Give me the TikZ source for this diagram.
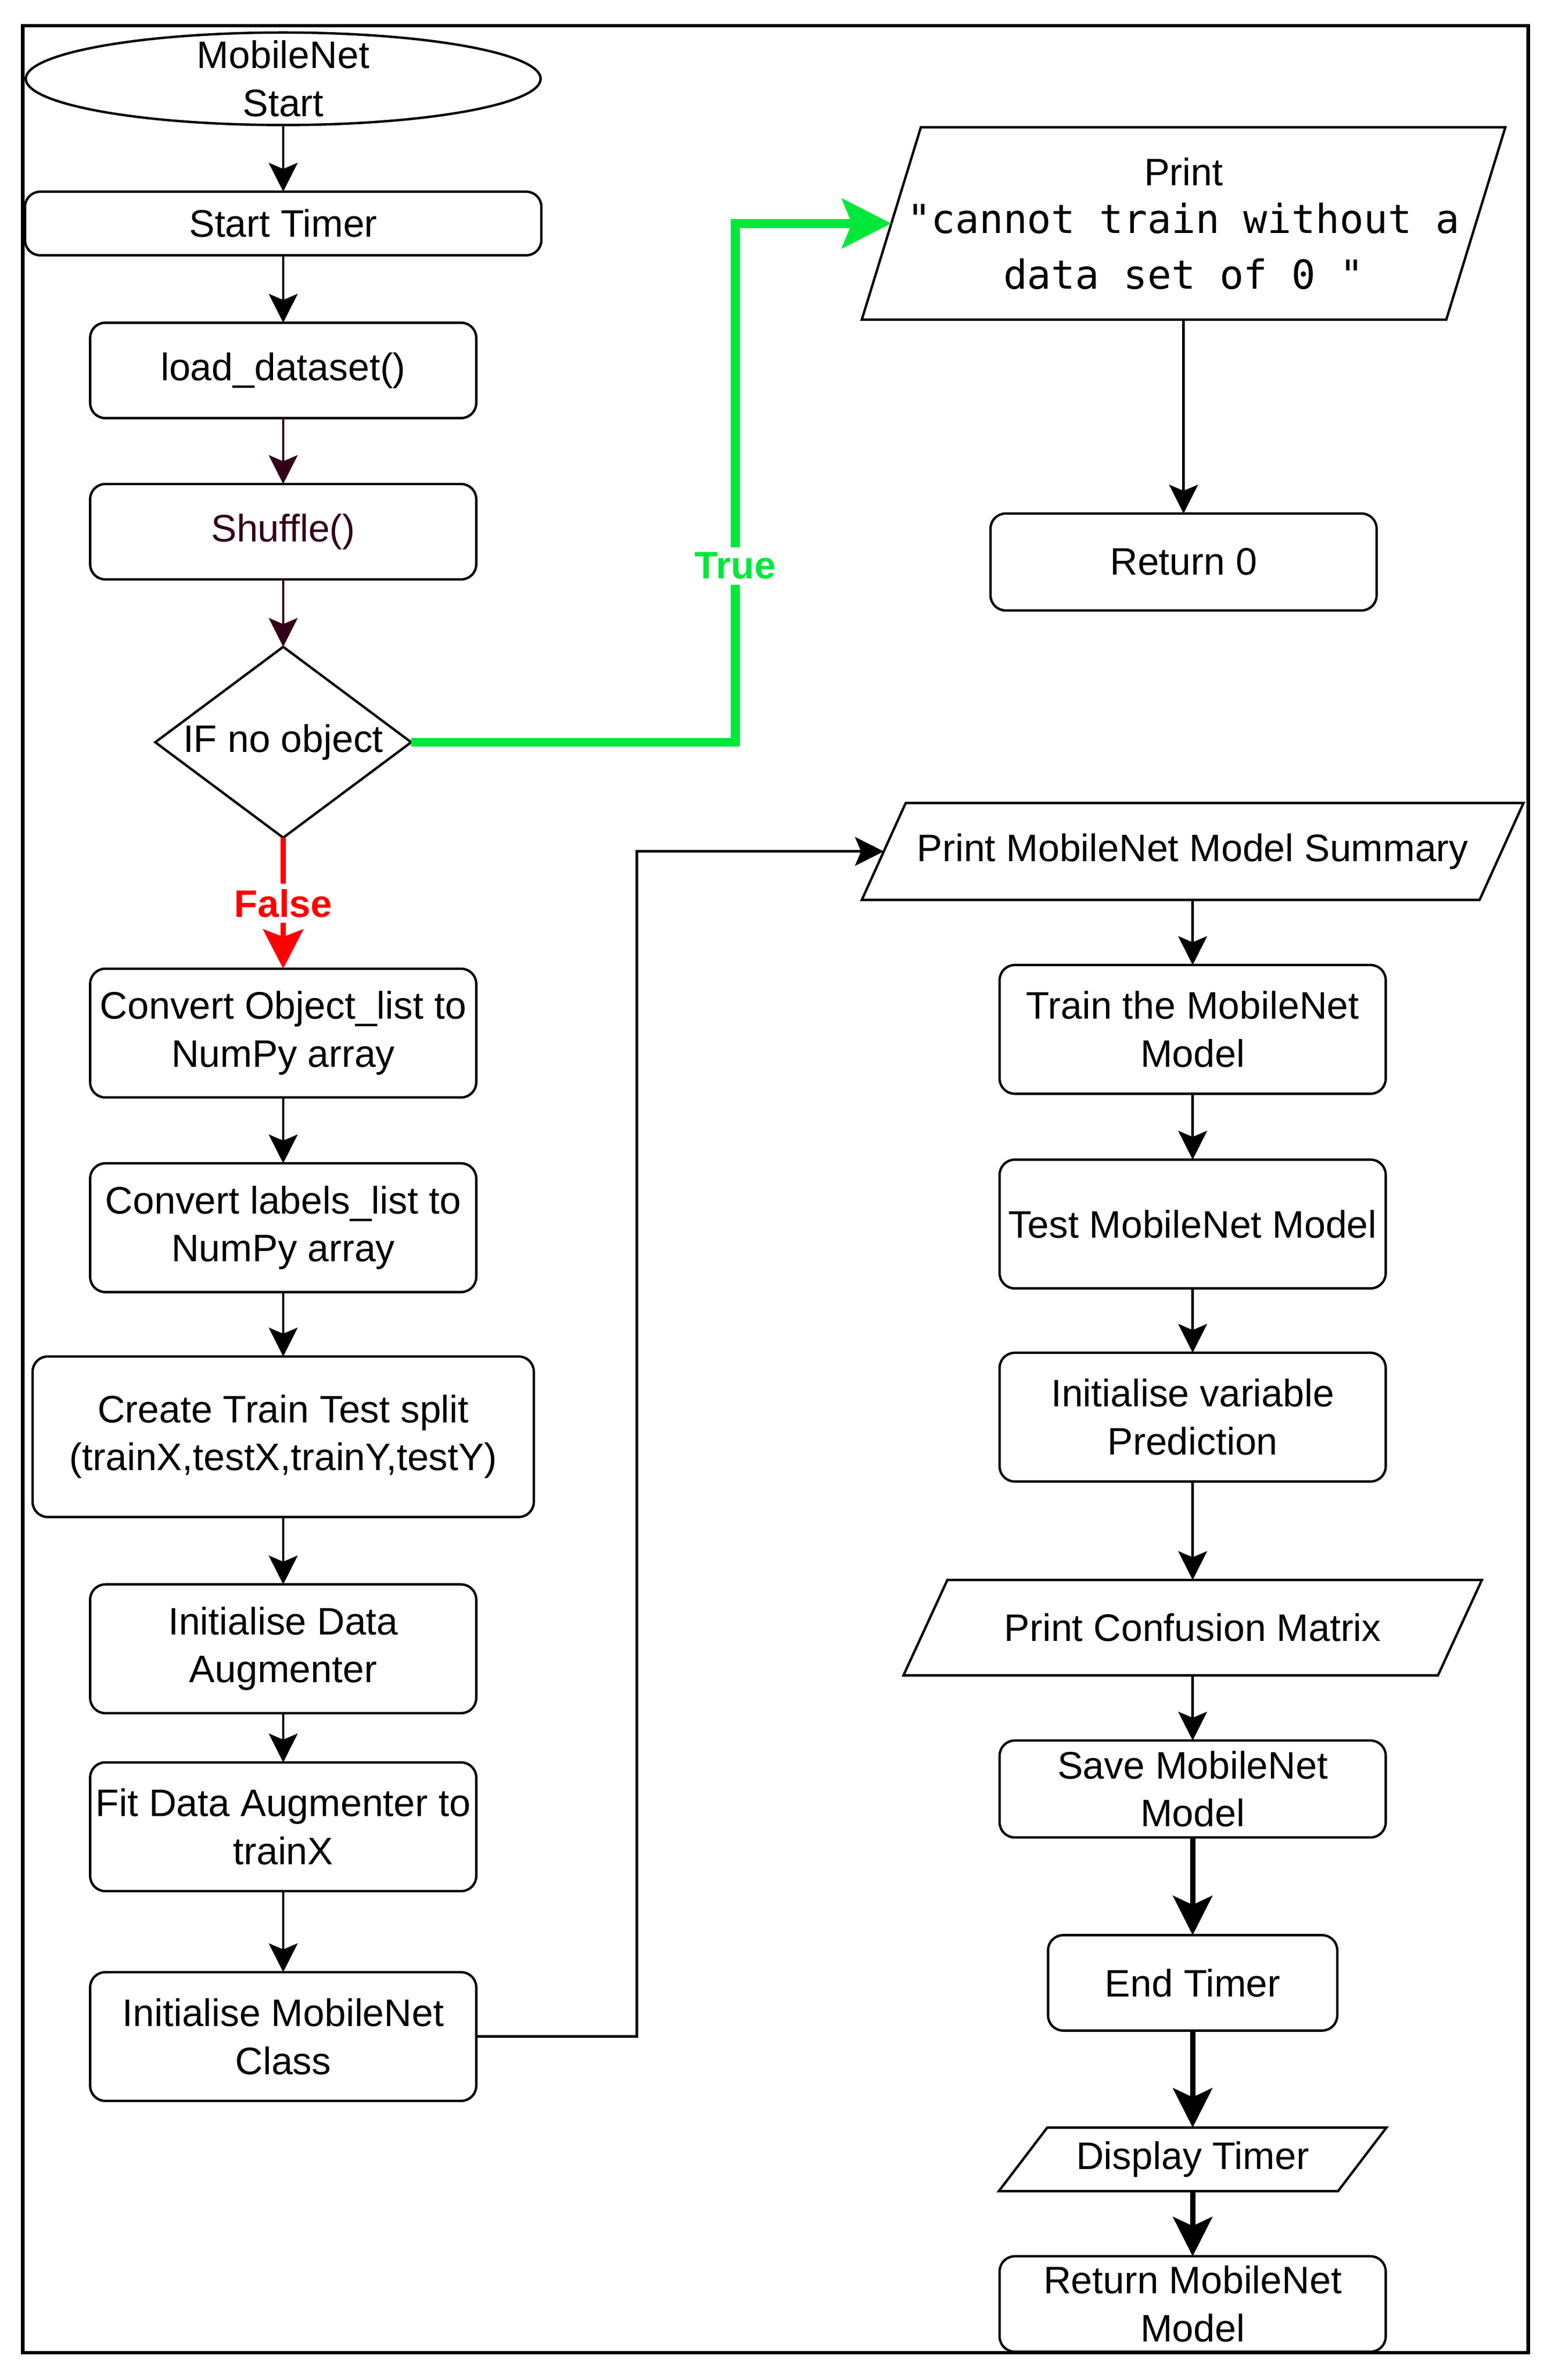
\documentclass[tikz,border=0pt]{standalone}
\usepackage{fontspec}
\setmainfont{Liberation Sans}
\setmonofont{DejaVu Sans Mono}
\usetikzlibrary{positioning, shapes.geometric, arrows.meta}

\definecolor{truegreen}{RGB}{0,232,58}
\definecolor{falsered}{RGB}{255,0,0}
\definecolor{darkmaroon}{RGB}{51,0,26}

\tikzset{
	box/.style={draw, line width=0.9pt, inner sep=0pt, outer sep=0pt, align=center, font=\fontsize{14.4}{18}\selectfont},
	proc/.style={box, rectangle, rounded corners=0.2cm, minimum width=5.1cm, minimum height=1.7cm},
	term/.style={box, ellipse, inner sep=-2pt, minimum width=6.8cm, minimum height=1.22cm},
	cond/.style={box, diamond, aspect=1.34, minimum width=3.38cm, minimum height=2.52cm},
	io/.style={box, rectangle, draw=none, append after command={\pgfextra{\draw[line width=0.9pt]
		([xshift=#1]\tikzlastnode.north west) -- (\tikzlastnode.north east)
		-- ([xshift=-#1]\tikzlastnode.south east) -- (\tikzlastnode.south west) -- cycle;}}},
	arr/.style={-{Stealth[length=0.38cm, width=0.38cm, inset=0.08cm]}, line width=1pt},
	heavyarr/.style={-{Stealth[length=0.52cm, width=0.52cm, inset=0.12cm]}, line width=2pt},
	truearr/.style={-{Stealth[length=0.65cm, width=0.65cm, inset=0.13cm]}, line width=3.4pt, truegreen},
	falsearr/.style={-{Stealth[length=0.52cm, width=0.53cm, inset=0.1cm]}, line width=2pt, falsered},
	branch/.style={fill=white, inner sep=2pt, font=\fontsize{14.4}{18}\selectfont\bfseries}
}

\begin{document}
\begin{tikzpicture}[x=0.02cm, y=-0.02cm]
	\useasboundingbox (0,0) rectangle (1024,1571);
	\draw[line width=1.3pt] (15,17) rectangle (1009,1553);

	\node[term] (start) at (187,52) {MobileNet\\Start};
	\node[proc, minimum width=6.82cm, minimum height=0.84cm, below=0.88cm of start] (timer) {Start Timer};
	\node[proc, minimum height=1.26cm, below=0.89cm of timer] (load) {load\_dataset()};
	\node[proc, minimum height=1.26cm, text=darkmaroon, below=0.87cm of load] (shuffle) {Shuffle()};
	\node[cond, below=0.89cm of shuffle] (ifobj) {IF no object};
	\node[proc, below=1.73cm of ifobj] (objlist) {Convert Object\_list to\\NumPy array};
	\node[proc, below=0.87cm of objlist] (lbllist) {Convert labels\_list to\\NumPy array};
	\node[proc, minimum width=6.62cm, minimum height=2.12cm, below=0.85cm of lbllist] (split) {Create Train Test split\\(trainX,testX,trainY,testY)};
	\node[proc, below=0.89cm of split] (initaug) {Initialise Data\\Augmenter};
	\node[proc, below=0.65cm of initaug] (fitaug) {Fit Data Augmenter to\\trainX};
	\node[proc, below=1.07cm of fitaug] (initmob) {Initialise MobileNet\\Class};

	\node[io=0.78cm, minimum width=8.5cm, minimum height=2.54cm] (nodata) at (781.5,147.5) {Print\\{\fontsize{15}{18}\selectfont\ttfamily "cannot train without a}\\[0.1cm]{\fontsize{15}{18}\selectfont\ttfamily data set of 0 "}};
	\node[proc, minimum height=1.28cm, below=3.83cm of nodata.center] (ret0) {Return 0};

	\node[io=0.58cm, minimum width=8.74cm, minimum height=1.28cm] (summary) at (787.5,562) {Print MobileNet Model Summary};
	\node[proc, below=1.5cm of summary.center] (train) {Train the MobileNet\\Model};
	\node[proc, below=0.87cm of train] (test) {Test MobileNet Model};
	\node[proc, below=0.85cm of test] (initvar) {Initialise variable\\Prediction};
	\node[io=0.58cm, minimum width=7.64cm, minimum height=1.26cm] (confusion) at ([yshift=-1.93cm]initvar.south) {Print Confusion Matrix};
	\node[proc, minimum height=1.28cm, below=1.49cm of confusion.center] (save) {Save MobileNet\\Model};
	\node[proc, minimum width=3.82cm, minimum height=1.26cm, below=1.29cm of save] (endtimer) {End Timer};
	\node[io=0.64cm, minimum width=5.12cm, minimum height=0.84cm] (display) at ([yshift=-1.7cm]endtimer.south) {Display Timer};
	\node[proc, minimum height=1.26cm, below=1.28cm of display.center] (retmob) {Return MobileNet\\Model};

	\foreach \a/\b in {start/timer, timer/load, objlist/lbllist, lbllist/split, split/initaug, initaug/fitaug, fitaug/initmob, nodata/ret0, summary/train, train/test, test/initvar, initvar/confusion, confusion/save}
		\draw[arr] (\a) -- (\b);
	\foreach \a/\b in {load/shuffle, shuffle/ifobj}
		\draw[arr, darkmaroon] (\a) -- (\b);
	\foreach \a/\b in {save/endtimer, endtimer/display, display/retmob}
		\draw[heavyarr] (\a) -- (\b);
	\draw[falsearr] (ifobj) -- node[branch, text=falsered] {False} (objlist);
	\draw[truearr] (ifobj.east) -- ++(214,0) |- node[branch, text=truegreen, pos=0.17] {True} ([xshift=0.39cm]nodata.west);
	\draw[arr] (initmob.east) -- ++(106,0) |- ([xshift=0.29cm]summary.west);
\end{tikzpicture}
\end{document}
